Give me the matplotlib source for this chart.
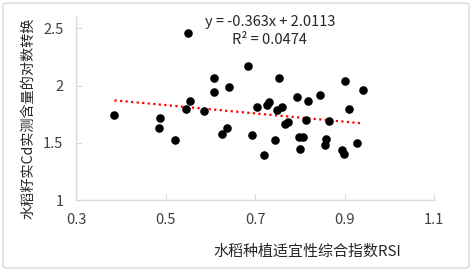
import matplotlib
matplotlib.use("Agg")
import matplotlib.pyplot as plt
from matplotlib.patches import FancyBboxPatch

plt.rcParams['font.family'] = ['Noto Sans CJK SC', 'DejaVu Sans']

rsi = [0.386, 0.551, 0.488, 0.486, 0.521, 0.546, 0.555, 0.587, 0.608, 0.608,
       0.643, 0.626, 0.637, 0.684, 0.704, 0.694, 0.719, 0.726, 0.732, 0.754,
       0.745, 0.750, 0.760, 0.767, 0.773, 0.794, 0.818, 0.814, 0.799, 0.808,
       0.801, 0.845, 0.866, 0.859, 0.856, 0.900, 0.911, 0.942, 0.929, 0.894,
       0.899]
cd_log = [1.739, 2.459, 1.717, 1.629, 1.526, 1.792, 1.868, 1.781, 2.070, 1.941,
          1.985, 1.573, 1.632, 2.170, 1.816, 1.564, 1.392, 1.833, 1.857, 2.070,
          1.526, 1.787, 1.813, 1.667, 1.681, 1.898, 1.868, 1.696, 1.553, 1.553,
          1.450, 1.918, 1.690, 1.535, 1.482, 2.038, 1.792, 1.962, 1.500, 1.436,
          1.406]
slope = -0.363
intercept = 2.0113
eq_text = "y = -0.363x + 2.0113"
r2_text = "R² = 0.0474"
x_ticks = [0.3, 0.5, 0.7, 0.9, 1.1]
y_ticks = [1, 1.5, 2, 2.5]
x_label = "水稻种植适宜性综合指数RSI"
y_label = "水稻籽实Cd实测含量的对数转换"

W, H = 472, 271
fig = plt.figure(figsize=(W / 100, H / 100), dpi=100)
fig.patch.set_facecolor('white')
border = FancyBboxPatch((3 / W, 3 / H), 1 - 6 / W, 1 - 6 / H,
                        boxstyle="round,pad=0,rounding_size=0.01",
                        transform=fig.transFigure, fill=False,
                        edgecolor='#d9d9d9', linewidth=1.0)
fig.patches.append(border)

ax = fig.add_axes([76 / W, 1 - 200 / H, (434 - 76) / W, (200 - 17) / H])
ax.set_xlim(0.3, 1.1)
ax.set_ylim(1, 2.6)

ax.scatter(rsi, cd_log, s=38, color='black', zorder=3, linewidths=0)
x0, x1 = min(rsi), max(rsi)
ax.plot([x0, x1], [slope * x0 + intercept, slope * x1 + intercept],
        color='#ff0000', linestyle=(0, (1, 1.5)), linewidth=1.6, zorder=2)

ax.set_xticks(x_ticks)
ax.set_xticklabels([f"{v:g}" for v in x_ticks])
ax.set_yticks(y_ticks)
ax.set_yticklabels([f"{v:g}" for v in y_ticks])
for s in ['top', 'right']:
    ax.spines[s].set_visible(False)
for s in ['left', 'bottom']:
    ax.spines[s].set_color('#d9d9d9')
    ax.spines[s].set_linewidth(1.0)
ax.tick_params(axis='both', direction='in', length=4, color='#d9d9d9',
               labelsize=10.5, labelcolor='#404040')
ax.tick_params(axis='x', pad=9)
ax.tick_params(axis='y', pad=9)

fig.text(270 / W, 1 - 22 / H, eq_text, ha='center', va='center',
         fontsize=10.5, color='#262626')
fig.text(270 / W, 1 - 40 / H, r2_text, ha='center', va='center',
         fontsize=10.5, color='#262626')
fig.text(307 / W, 1 - 252 / H, x_label, ha='center', va='center',
         fontsize=10.8, color='#262626')
fig.text(28 / W, 1 - 118 / H, y_label, ha='center', va='center',
         rotation=90, fontsize=10.2, color='#262626')

fig.savefig('out.png', dpi=100)
